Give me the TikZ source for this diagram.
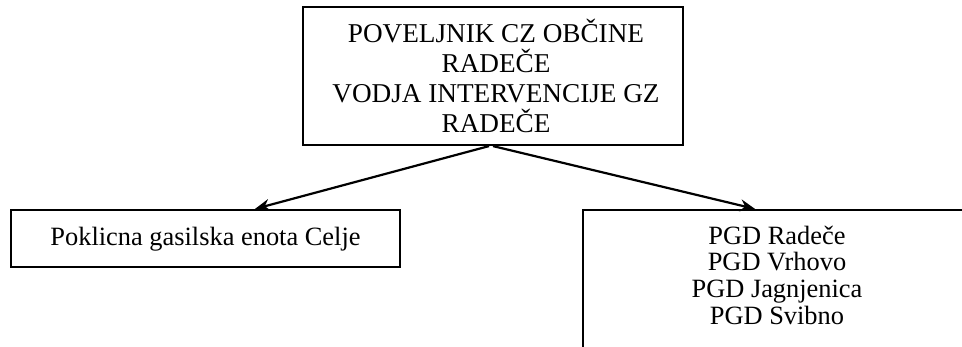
\documentclass[tikz,border=0pt]{standalone}
\usepackage{fontspec}
\setmainfont{Liberation Serif}
\usetikzlibrary{arrows.meta}
\begin{document}
\begin{tikzpicture}[x=0.5pt,y=-0.5pt,
  frame/.style={draw,line width=1.1pt,inner sep=0pt},
  txt/.style={inner sep=0pt,align=center,anchor=base},
  arr/.style={line width=1.1pt,-{Stealth[length=7.5pt,width=6pt]}}]
\useasboundingbox (0,0) rectangle (962,347);
\clip (0,0) rectangle (962,347);
\node[frame,minimum width=190pt,minimum height=69pt] (top) at (493,76) {};
\node[txt,font=\fontsize{13.6}{15}\selectfont] (toptext) at (496,133)
  {POVELJNIK CZ OBČINE\\RADEČE\\VODJA INTERVENCIJE GZ\\RADEČE};
\node[frame,minimum width=194.5pt,minimum height=28.5pt] (left) at (205.5,238.5) {};
\node[txt,font=\fontsize{13.2}{13.3}\selectfont] (lefttext) at (205.5,245)
  {Poklicna gasilska enota Celje};
\node[frame,minimum width=194pt,minimum height=69pt] (right) at (777,279) {};
\node[txt,font=\fontsize{13.2}{13.3}\selectfont] (righttext) at (777,324)
  {PGD Radeče\\PGD Vrhovo\\PGD Jagnjenica\\PGD Svibno};
\draw[arr] ([xshift=-2pt]top.south) -- ([xshift=24.75pt]left.north);
\draw[arr] (top.south) -- ([xshift=-11pt]right.north);
\end{tikzpicture}
\end{document}
